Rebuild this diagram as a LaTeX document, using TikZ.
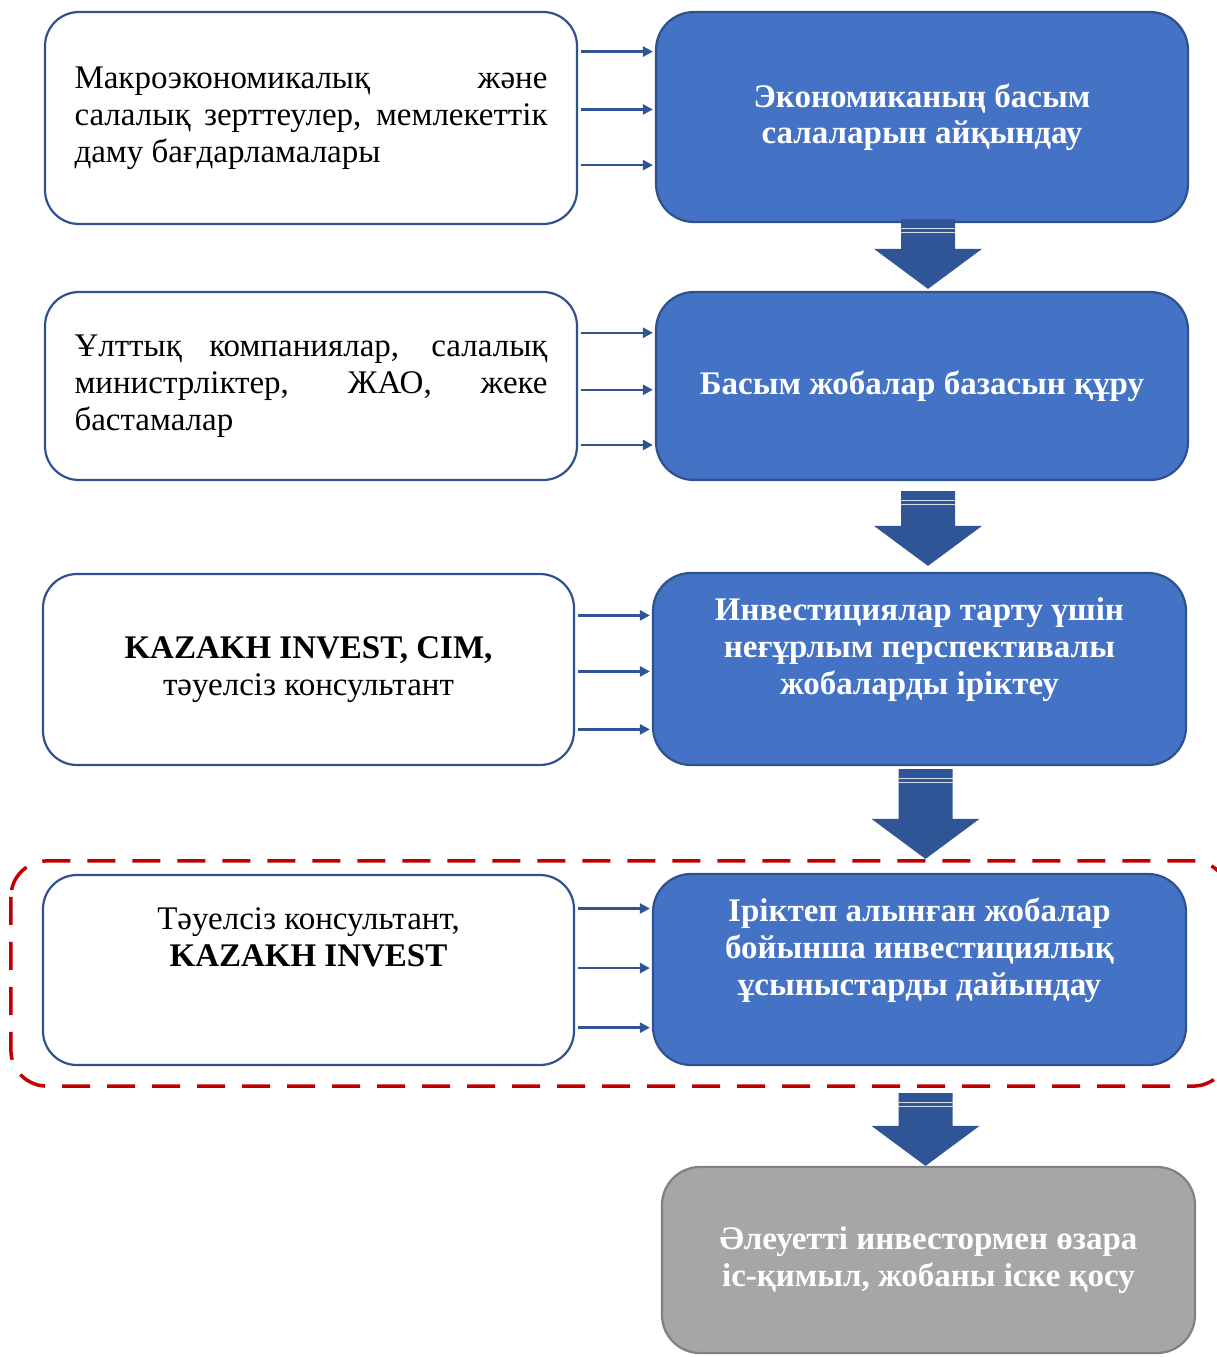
\documentclass[tikz,border=0pt]{standalone}
\usepackage{fontspec}
\setmainfont{Liberation Serif}
\usetikzlibrary{arrows.meta, calc}
\definecolor{stageblue}{RGB}{68, 114, 196}
\definecolor{edgeblue}{RGB}{47, 82, 143}
\definecolor{arrowblue}{RGB}{47, 85, 151}
\definecolor{finalgray}{RGB}{166, 166, 166}
\definecolor{grayedge}{RGB}{128, 128, 128}
\definecolor{framered}{RGB}{192, 0, 0}

\begin{document}
\begin{tikzpicture}[x=1pt, y=-1pt,
    source/.style={rectangle, draw=edgeblue, line width=2.2pt, fill=white, rounded corners=34pt, minimum width=532pt, inner sep=0pt, font=\fontsize{33}{37}\selectfont},
    srctext/.style={text width=473pt, align=justify},
    stage/.style={rectangle, draw=edgeblue, line width=2.2pt, fill=stageblue, rounded corners=38pt, minimum width=532pt, inner sep=0pt, align=center, text=white, font=\bfseries\fontsize{33}{36.5}\selectfont},
    final/.style={stage, draw=grayedge, fill=finalgray},
    feed/.style={draw=arrowblue, line width=2.4pt, shorten <=3pt, shorten >=2pt, -{Triangle[length=10pt, width=10pt]}},
    bigarrow/.style={fill=arrowblue},
    frame/.style={draw=framered, line width=3.5pt, dash pattern=on 28pt off 17pt, rounded corners=36pt}
]
    \useasboundingbox (0,0) rectangle (1216,1357);

    % sources on the left
    \node[source, srctext, minimum height=212pt] (l1) at (311, 118) {Макроэкономикалық және\linebreak салалық зерттеулер, мемлекеттік\linebreak даму бағдарламалары};
    \node[source, srctext, minimum height=188pt] (l2) at (311, 386) {Ұлттық компаниялар, салалық\linebreak министрліктер, ЖАО, жеке\linebreak бастамалар};
    \node[source, align=center, minimum width=531pt, minimum height=191pt] (l3) at (308.5, 669.5) {\textbf{KAZAKH INVEST, CIM,}\\тәуелсіз консультант};
    \node[source, minimum width=531pt, minimum height=190pt,
        label={[align=center, yshift=33pt, font=\fontsize{33}{37}\selectfont]center:{Тәуелсіз консультант,\\\textbf{KAZAKH INVEST}}}] (l4) at (308.5, 970) {};

    % stages on the right
    \node[stage, minimum height=210pt] (r1) at (922, 117) {Экономиканың басым\\салаларын айқындау};
    \node[stage, minimum height=188pt] (r2) at (922, 386) {Басым жобалар базасын құру};
    \node[stage, minimum width=533pt, minimum height=192pt,
        label={[align=center, yshift=19pt, text=white, font=\bfseries\fontsize{33}{37}\selectfont]center:{Инвестициялар тарту үшін\\неғұрлым перспективалы\\жобаларды іріктеу}}] (r3) at (919.5, 669) {};
    \node[stage, minimum width=533pt, minimum height=191pt,
        label={[align=center, yshift=19pt, text=white, font=\bfseries\fontsize{33}{37}\selectfont]center:{Іріктеп алынған жобалар\\бойынша инвестициялық\\ұсыныстарды дайындау}}] (r4) at (919.5, 969.5) {};
    \node[final, minimum width=533pt, minimum height=186pt] (r5) at (928.5, 1260) {Әлеуетті инвестормен өзара\\іс-қимыл, жобаны іске қосу};

    % dashed frame round the fourth row
    \draw[frame] ($(l4.north west)+(-31,-13)$) rectangle ($(r4.south east)+(42,20)$);

    % thin arrows from sources to stages
    \foreach \i/\fs in {1/{0.19,0.46,0.72}, 2/{0.22,0.52,0.81}, 3/{0.22,0.51,0.81}, 4/{0.18,0.49,0.8}}
        \foreach \f in \fs {
            \path ($(l\i.north east)!\f!(l\i.south east)$) coordinate (s);
            \draw[feed] (s) -- (s -| r\i.west);
        }

    % block arrows between stages
    \foreach \a/\b/\ta/\tb in {r1/r2/-4/2, r2/r3/10/6, r3/r4/3/14, r4/r5/27/0} {
        \coordinate (top) at ($(\a.south)+(6,\ta)$);
        \coordinate (tip) at ($(\b.north -| top)+(0,-\tb)$);
        \fill[bigarrow] ($(top)+(-27,0)$) -- ($(top)+(27,0)$) -- ($(tip)+(27,-40)$) -- ($(tip)+(54,-40)$)
            -- (tip) -- ($(tip)+(-54,-40)$) -- ($(tip)+(-27,-40)$) -- cycle;
        \draw[white!80!arrowblue, line width=1pt] ($(top)+(-27,9)$) -- ($(top)+(27,9)$)
            ($(top)+(-27,13)$) -- ($(top)+(27,13)$);
    }
\end{tikzpicture}
\end{document}
